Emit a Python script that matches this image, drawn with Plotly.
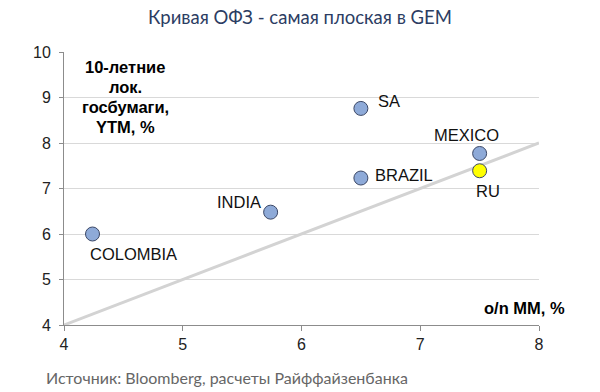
import plotly.graph_objects as go

countries = ["COLOMBIA", "INDIA", "SA", "BRAZIL", "MEXICO", "RU"]
mm_rate = [4.24, 5.74, 6.5, 6.5, 7.5, 7.5]
ytm_10y = [6.0, 6.48, 8.76, 7.23, 7.77, 7.39]
fill_colors = ["#8eaad8", "#8eaad8", "#8eaad8", "#8eaad8", "#8eaad8", "#ffff00"]
line_x = [4, 8]
line_y = [4, 8]
x_ticks = [4, 5, 6, 7, 8]
y_ticks = [4, 5, 6, 7, 8, 9, 10]
y_title_lines = ["10-летние", "лок.", "госбумаги,", "YTM, %"]

# label offsets (pixels) and anchors
label_pos = {
    "COLOMBIA": (-5, -20, "left", "middle"),
    "INDIA": (-8, 10, "right", "middle"),
    "SA": (15, 7, "left", "middle"),
    "BRAZIL": (12, 3, "left", "middle"),
    "MEXICO": (-13, 18, "center", "middle"),
    "RU": (8, -20, "center", "middle"),
}

fig = go.Figure()
fig.add_trace(go.Scatter(x=line_x, y=line_y, mode="lines",
                         line=dict(color="#d3d3d3", width=3), hoverinfo="skip", showlegend=False))
fig.add_trace(go.Scatter(x=mm_rate, y=ytm_10y, mode="markers",
                         marker=dict(size=14, color=fill_colors, line=dict(color="#3c4866", width=1)),
                         showlegend=False))

lab_font = dict(family="Liberation Sans, Arial", size=16.5, color="#111")
for c, xv, yv in zip(countries, mm_rate, ytm_10y):
    dx, dy, xa, ya = label_pos[c]
    fig.add_annotation(x=xv, y=yv, text=c, showarrow=False, xshift=dx, yshift=dy,
                       xanchor=xa, yanchor=ya, font=lab_font)

bold_font = dict(family="Liberation Sans, Arial", size=16.5, color="#000")
for i, t in enumerate(y_title_lines):
    ypix = 67 + 20 * i
    fig.add_annotation(x=(125 - 64) / 475, y=(325 - ypix) / 273, xref="paper", yref="paper",
                       xanchor="center", yanchor="middle", text="<b>" + t + "</b>",
                       showarrow=False, font=bold_font)
fig.add_annotation(x=(567 - 64) / 475, y=(325 - 308) / 273, xref="paper", yref="paper", showarrow=False,
                   xanchor="right", yanchor="middle",
                   text="<b>o/n MM, %</b>", font=bold_font)

fig.add_annotation(x=-20 / 475, y=-(377 - 325) / 273, xref="paper", yref="paper", showarrow=False,
                   xanchor="left", yanchor="middle",
                   text="Источник: Bloomberg, расчеты Райффайзенбанка",
                   font=dict(family="Lato, Noto Sans", size=16, color="#666"))

fig.update_layout(
    width=600, height=392,
    margin=dict(l=64, r=61, t=52, b=67),
    paper_bgcolor="white", plot_bgcolor="white",
    title=dict(text="Кривая ОФЗ - самая плоская в GEM", x=0.5, xanchor="center", y=0.955, yanchor="middle",
               font=dict(family="Lato, Noto Sans", size=18.5, color="#2c3d63")),
    xaxis=dict(range=[4, 8], tickvals=x_ticks, showgrid=False, zeroline=False,
               showline=True, linecolor="#8c8c8c", linewidth=1, ticks="outside", ticklen=5,
               tickcolor="#8c8c8c", tickfont=dict(family="Liberation Sans, Arial", size=16, color="#222")),
    yaxis=dict(range=[4, 10], tickvals=y_ticks, showgrid=True, gridcolor="#d9d9d9", zeroline=False,
               showline=True, linecolor="#8c8c8c", linewidth=1, ticks="outside", ticklen=4,
               ticklabelstandoff=5,
               tickcolor="#8c8c8c", tickfont=dict(family="Liberation Sans, Arial", size=16, color="#222")),
)

fig.write_html("out.html", config={"displayModeBar": False},
               post_script="document.body.style.margin='0';document.body.style.padding='0';")
